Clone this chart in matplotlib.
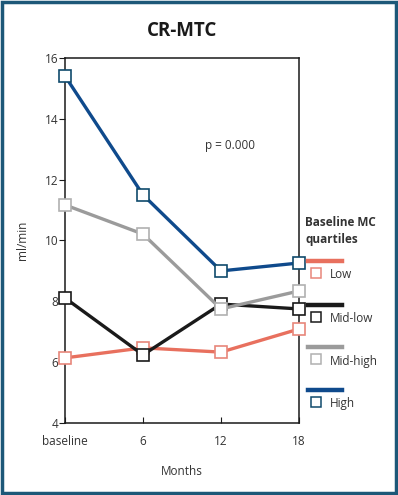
import numpy as np
import matplotlib
matplotlib.use('Agg')
import matplotlib.pyplot as plt
from matplotlib.lines import Line2D
from matplotlib.patches import Rectangle

plt.rcParams['font.family'] = ['Open Sans', 'DejaVu Sans']

months = [0, 6, 12, 18]
tick_labels = ['baseline', '6', '12', '18']
groups = ['Low', 'Mid-low', 'Mid-high', 'High']
colors = ['#e8705e', '#1a1a1a', '#9b9b9b', '#0f4a8c']
edge_colors = ['#e8867a', '#1a1a1a', '#b0b0b0', '#0f4a6c']

low = [6.14, 6.47, 6.33, 7.09]
mid_low = [8.11, 6.24, 7.91, 7.75]
mid_high = [11.17, 10.21, 7.75, 8.34]
high = [15.41, 11.5, 9.0, 9.26]
series = [low, mid_low, mid_high, high]

fig = plt.figure(figsize=(3.98, 4.95), dpi=100)
fig.patches.append(Rectangle((0.004, 0.004), 0.992, 0.992, transform=fig.transFigure,
                             fill=False, edgecolor='#1d5878', linewidth=2.5))

ax = fig.add_axes([0.1633, 0.1455, 0.588, 0.7373])
for vals, c, ec in zip(series, colors, edge_colors):
    ax.plot(months, vals, color=c, lw=2.4, marker='s', markersize=8.5,
            markerfacecolor='white', markeredgecolor=ec, markeredgewidth=1.2,
            clip_on=False, zorder=3)

ax.set_xlim(0, 18)
ax.set_ylim(4, 16)
ax.set_xticks(months)
ax.set_xticklabels(tick_labels)
ax.set_yticks(range(4, 17, 2))
ax.tick_params(axis='x', direction='in', length=4, labelsize=8.5, colors='#333333', pad=9)
ax.tick_params(axis='y', direction='out', length=4, labelsize=8.5, colors='#333333', pad=1)
ax.tick_params(axis='both', color='#1a1a1a')
for s in ax.spines.values():
    s.set_linewidth(1.1)
    s.set_color('#1a1a1a')

ax.set_xlabel('Months', fontsize=8.5, color='#333333', labelpad=12)
ax.set_ylabel('ml/min', fontsize=8.5, color='#333333', labelpad=11)
ax.text(0.598, 0.759, 'p = 0.000', transform=ax.transAxes, fontsize=8.5,
        color='#333333', ha='left', va='center')

fig.text(0.457, 0.938, 'CR-MTC', fontsize=13.5, fontweight='bold',
         ha='center', va='center', color='#1a1a1a')

# legend drawn by hand: line above, marker below, label to the right
fig.text(305 / 398, 1 - 222 / 495, 'Baseline MC', fontsize=8.5, fontweight='bold',
         ha='left', va='center', color='#333333')
fig.text(305 / 398, 1 - 240 / 495, 'quartiles', fontsize=8.5, fontweight='bold',
         ha='left', va='center', color='#333333')
leg_line_y = [261, 305, 347, 390]
for g, c, ec, ly in zip(groups, colors, edge_colors, leg_line_y):
    yl = 1 - ly / 495
    ym = 1 - (ly + 12) / 495
    fig.add_artist(Line2D([308 / 398, 342 / 398], [yl, yl], color=c, lw=3.2,
                          transform=fig.transFigure))
    fig.add_artist(Line2D([316 / 398], [ym], marker='s', markersize=7.5,
                          markerfacecolor='white', markeredgecolor=ec,
                          markeredgewidth=1.1, transform=fig.transFigure))
    fig.text(330 / 398, 1 - (ly + 14) / 495, g, fontsize=8.5, ha='left',
             va='center', color='#333333')

fig.savefig('out.png', dpi=100)
